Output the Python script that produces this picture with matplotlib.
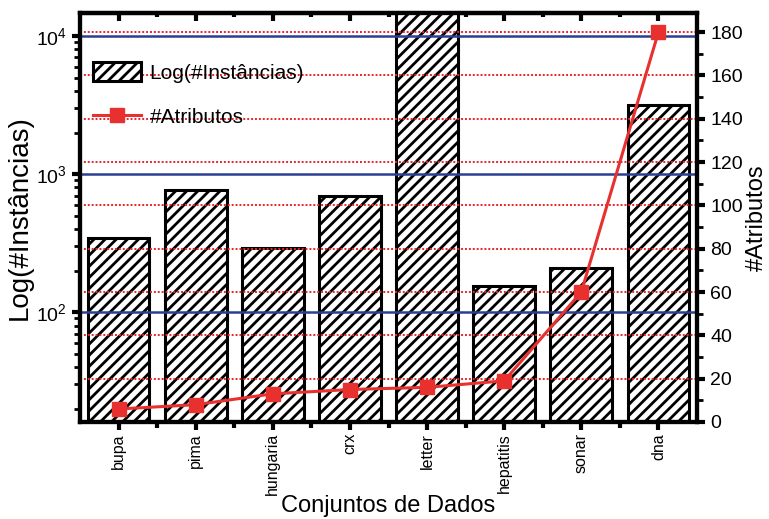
import matplotlib
matplotlib.use("Agg")
import matplotlib.pyplot as plt
from matplotlib.ticker import LogLocator, MultipleLocator, NullFormatter, FixedLocator
from matplotlib.lines import Line2D
from matplotlib.patches import Patch
import numpy as np

categories = ["bupa", "pima", "hungaria", "crx", "letter", "hepatitis", "sonar", "dna"]
instances = [345, 768, 294, 690, 20000, 155, 208, 3186]
attributes = [6, 8, 13, 15, 16, 19, 60, 180]
right_grid = [20, 40, 60, 80, 100, 120, 140, 160, 180]
left_grid = [100, 1000, 10000]

plt.rcParams['font.family'] = ['Liberation Sans', 'DejaVu Sans']
plt.rcParams['hatch.linewidth'] = 2.0

fig = plt.figure(figsize=(7.69, 5.19), dpi=100)
ax = fig.add_axes([80/769, 1 - 422/519, 617/769, 409/519])
x = np.arange(len(categories))

ax.bar(x, instances, width=0.8, facecolor='white', edgecolor='black', linewidth=2.2,
       hatch='///', zorder=2)
ax.set_yscale('log')
ax.set_ylim(16, 14700)
ax.set_xlim(-0.5, len(categories) - 0.5)
for v in left_grid:
    ax.axhline(v, color='#2b3f91', linewidth=1.8, zorder=3)

ax.set_xticks(x)
ax.set_xticklabels(categories, rotation=90, fontsize=11.5)
ax.xaxis.set_minor_locator(FixedLocator(x[:-1] + 0.5))
ax.tick_params(axis='x', which='major', direction='out', length=6, width=3, pad=2)
ax.tick_params(axis='x', which='minor', direction='out', length=4, width=3)
ax.tick_params(axis='y', which='major', direction='out', length=6, width=3, labelsize=14)
ax.tick_params(axis='y', which='minor', direction='out', length=4, width=2)
ax.yaxis.set_major_locator(LogLocator(base=10, numticks=10))
ax.yaxis.set_minor_locator(LogLocator(base=10, subs=np.arange(2, 10), numticks=10))
ax.yaxis.set_minor_formatter(NullFormatter())
for s in ax.spines.values():
    s.set_linewidth(3)

top = ax.secondary_xaxis('top')
top.set_xticks(x)
top.set_xticklabels([])
top.xaxis.set_minor_locator(FixedLocator(x[:-1] + 0.5))
top.tick_params(axis='x', which='major', direction='in', length=6, width=3)
top.tick_params(axis='x', which='minor', direction='in', length=3, width=3)
top.spines['top'].set_linewidth(3)

ax.set_ylabel("Log(#Instâncias)", fontsize=20, labelpad=2)
ax.set_xlabel("Conjuntos de Dados", fontsize=17, labelpad=0)

ax2 = ax.twinx()
ax2.set_ylim(0, 188.8)
for v in right_grid:
    ax2.axhline(v, color='#e8262a', linewidth=1.4, linestyle=(0, (1, 1)), zorder=1)
ax2.plot(x, attributes, color='#e8312f', linewidth=2.2, marker='s', markersize=10,
         markerfacecolor='#e8312f', markeredgecolor='#e8312f', zorder=5)
ax2.yaxis.set_major_locator(MultipleLocator(20))
ax2.yaxis.set_minor_locator(MultipleLocator(10))
ax2.tick_params(axis='y', which='major', direction='out', length=6, width=3, labelsize=14)
ax2.tick_params(axis='y', which='minor', direction='out', length=4, width=2)
ax2.set_ylabel("#Atributos", fontsize=17, labelpad=2)
for s in ax2.spines.values():
    s.set_linewidth(3)

handles = [Patch(facecolor='white', edgecolor='black', hatch='///', linewidth=2.2),
           Line2D([0], [0], color='#e8312f', linewidth=2.2, marker='s', markersize=10)]
ax2.legend(handles, ["Log(#Instâncias)", "#Atributos"], loc='upper left',
           bbox_to_anchor=(0.008, 0.9), borderaxespad=0, frameon=False, fontsize=15,
           handlelength=2.3, handleheight=1.0, labelspacing=1.15, handletextpad=0.4)

fig.savefig("out.png", dpi=100)
